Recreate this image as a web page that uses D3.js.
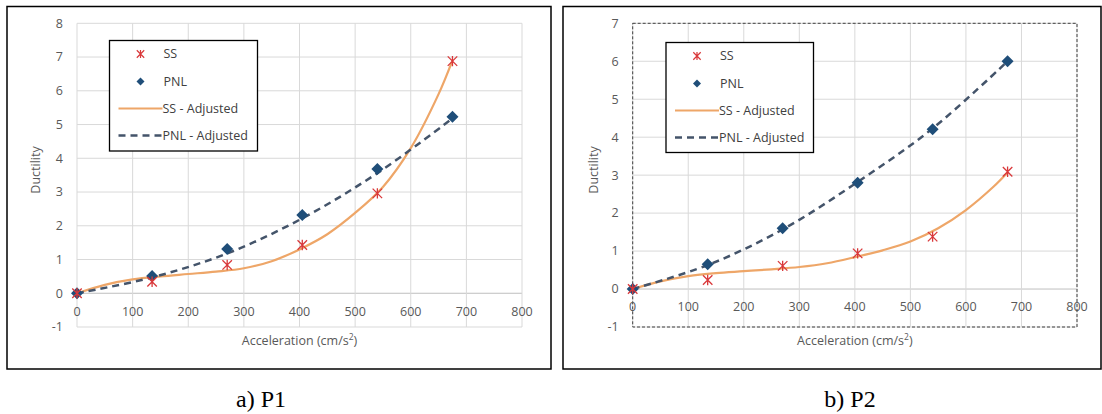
<!DOCTYPE html>
<html>
<head>
<meta charset="utf-8">
<script src="https://cdn.jsdelivr.net/npm/d3@7"></script>
<style>
  body { margin: 0; background: #fff; }
  svg { display: block; }
</style>
</head>
<body>
<div id="chart"></div>
<script>
// measured accelerations (cm/s2)
var accel = [0, 135, 270, 405, 540, 675];

// P1
var p1SS  = [0, 0.34, 0.84, 1.43, 2.96, 6.88];
var p1PNL = [0, 0.51, 1.31, 2.32, 3.68, 5.23];
var p1SSAdjX  = [0, 50, 100, 150, 200, 250, 300, 350, 400, 450, 500, 550, 600, 650, 675];
var p1SSAdjY  = [0, 0.25, 0.41, 0.5, 0.57, 0.64, 0.74, 0.95, 1.3, 1.75, 2.38, 3.15, 4.3, 5.9, 6.9];
var p1PNLAdjX = [0, 135, 270, 405, 540, 675];
var p1PNLAdjY = [0, 0.47, 1.18, 2.22, 3.56, 5.18];

// P2
var p2SS  = [0, 0.24, 0.61, 0.94, 1.38, 3.09];
var p2PNL = [0, 0.65, 1.6, 2.8, 4.21, 6.0];
var p2SSAdjX  = [0, 50, 100, 150, 200, 250, 300, 350, 400, 450, 500, 550, 600, 650, 675];
var p2SSAdjY  = [0, 0.2, 0.34, 0.42, 0.47, 0.52, 0.58, 0.68, 0.84, 1.02, 1.25, 1.6, 2.08, 2.7, 3.07];
var p2PNLAdjX = [0, 135, 270, 405, 540, 675];
var p2PNLAdjY = [0, 0.63, 1.57, 2.82, 4.23, 6.0];

var xTicks = [0, 100, 200, 300, 400, 500, 600, 700, 800];
var p1YTicks = [-1, 0, 1, 2, 3, 4, 5, 6, 7, 8];
var p2YTicks = [-1, 0, 1, 2, 3, 4, 5, 6, 7];
var legendLabels = ["SS", "PNL", "SS - Adjusted", "PNL - Adjusted"];

var ssColor = "#d9383a", pnlColor = "#1f4e79", ssLine = "#eea668", pnlLine = "#44546a";
var font = "'Open Sans', sans-serif";

var svg = d3.select("#chart").append("svg")
    .attr("width", 1102).attr("height", 414);

// Excel style star marker: x with a vertical stroke
var asterisk = {
    draw: function(ctx, size) {
        var r = Math.sqrt(size) / 2;
        ctx.moveTo(-r, -r); ctx.lineTo(r, r);
        ctx.moveTo(-r, r); ctx.lineTo(r, -r);
        ctx.moveTo(0, -r * 1.1); ctx.lineTo(0, r * 1.1);
    }
};

// square diamond (equal width and height)
var diamond = {
    draw: function(ctx, size) {
        var r = Math.sqrt(size / 2);
        ctx.moveTo(0, -r); ctx.lineTo(r, 0); ctx.lineTo(0, r); ctx.lineTo(-r, 0);
        ctx.closePath();
    }
};

function zip(xs, ys) {
    return xs.map(function(x, i) { return [x, ys[i]]; });
}

function drawPanel(cfg) {
    // frame
    svg.append("rect")
        .attr("x", cfg.frame[0]).attr("y", cfg.frame[1])
        .attr("width", cfg.frame[2]).attr("height", cfg.frame[3])
        .attr("fill", "none").attr("stroke", "#000").attr("stroke-width", 1.5);

    var x = d3.scaleLinear().domain([0, 800]).range([cfg.plot[0], cfg.plot[1]]);
    var y = d3.scaleLinear().domain(cfg.yDomain).range([cfg.plot[3], cfg.plot[2]]);
    var g = svg.append("g");

    // gridlines
    g.selectAll("line.hg").data(cfg.yTicks).enter().append("line")
        .attr("x1", x(0)).attr("x2", x(800))
        .attr("y1", function(d) { return y(d); }).attr("y2", function(d) { return y(d); })
        .attr("stroke", function(d) { return d === 0 ? "#bfbfbf" : "#d9d9d9"; })
        .attr("stroke-width", 1);
    g.selectAll("line.vg").data(xTicks).enter().append("line")
        .attr("y1", y(cfg.yDomain[0])).attr("y2", y(cfg.yDomain[1]))
        .attr("x1", function(d) { return x(d); }).attr("x2", function(d) { return x(d); })
        .attr("stroke", "#d9d9d9").attr("stroke-width", 1);

    if (cfg.dashedBorder) {
        g.append("rect")
            .attr("x", x(0)).attr("y", y(cfg.yDomain[1]))
            .attr("width", x(800) - x(0)).attr("height", y(cfg.yDomain[0]) - y(cfg.yDomain[1]))
            .attr("fill", "none").attr("stroke", "#404040")
            .attr("stroke-width", 1).attr("stroke-dasharray", "3,2");
    }

    // tick labels
    g.selectAll("text.yt").data(cfg.yTicks).enter().append("text")
        .attr("x", x(0) - 14).attr("y", function(d) { return y(d); })
        .attr("dy", "0.35em").attr("text-anchor", "end")
        .attr("font-family", font).attr("font-size", 12.5).attr("fill", "#595959")
        .text(function(d) { return d; });
    g.selectAll("text.xt").data(xTicks).enter().append("text")
        .attr("x", function(d) { return x(d); }).attr("y", y(0) + 18)
        .attr("dy", "0.35em").attr("text-anchor", "middle")
        .attr("font-family", font).attr("font-size", 12.5).attr("fill", "#595959")
        .text(function(d) { return d; });

    // axis titles
    var xt = g.append("text")
        .attr("x", (x(0) + x(800)) / 2).attr("y", cfg.xTitleY)
        .attr("text-anchor", "middle")
        .attr("font-family", font).attr("font-size", 12.5).attr("fill", "#595959");
    xt.append("tspan").text("Acceleration (cm/s");
    xt.append("tspan").attr("font-size", 8.5).attr("dy", -5).text("2");
    xt.append("tspan").attr("dy", 5).text(")");

    g.append("text")
        .attr("transform", "translate(" + cfg.yTitleX + "," + cfg.yTitleY + ") rotate(-90)")
        .attr("text-anchor", "middle")
        .attr("font-family", font).attr("font-size", 12.5).attr("fill", "#595959")
        .text("Ductility");

    // adjusted curves
    var line = d3.line()
        .x(function(d) { return x(d[0]); })
        .y(function(d) { return y(d[1]); })
        .curve(d3.curveCatmullRom);

    g.append("path").datum(zip(cfg.ssAdjX, cfg.ssAdjY))
        .attr("d", line).attr("fill", "none")
        .attr("stroke", ssLine).attr("stroke-width", 2.2);
    g.append("path").datum(zip(cfg.pnlAdjX, cfg.pnlAdjY))
        .attr("d", line).attr("fill", "none")
        .attr("stroke", pnlLine).attr("stroke-width", 2.5)
        .attr("stroke-dasharray", "7,5");

    // markers
    g.selectAll("path.pnl").data(zip(accel, cfg.pnl)).enter().append("path")
        .attr("d", d3.symbol().type(diamond).size(72))
        .attr("transform", function(d) { return "translate(" + x(d[0]) + "," + y(d[1]) + ")"; })
        .attr("fill", pnlColor);
    g.selectAll("path.ss").data(zip(accel, cfg.ss)).enter().append("path")
        .attr("d", d3.symbol().type(asterisk).size(90))
        .attr("transform", function(d) { return "translate(" + x(d[0]) + "," + y(d[1]) + ")"; })
        .attr("fill", "none").attr("stroke", ssColor).attr("stroke-width", 1.3);

    // legend
    var L = cfg.legend;
    var lg = svg.append("g").attr("transform", "translate(" + L[0] + "," + L[1] + ")");
    lg.append("rect").attr("width", L[2]).attr("height", L[3])
        .attr("fill", "#fff").attr("stroke", "#000").attr("stroke-width", 1.3);
    var rows = [13.5, 41, 68, 95];
    lg.append("path").attr("d", d3.symbol().type(asterisk).size(55))
        .attr("transform", "translate(31," + rows[0] + ")")
        .attr("fill", "none").attr("stroke", ssColor).attr("stroke-width", 1.2);
    lg.append("path").attr("d", d3.symbol().type(diamond).size(32))
        .attr("transform", "translate(31," + rows[1] + ")")
        .attr("fill", pnlColor);
    lg.append("line").attr("x1", 9).attr("x2", 53).attr("y1", rows[2]).attr("y2", rows[2])
        .attr("stroke", ssLine).attr("stroke-width", 2.2);
    lg.append("line").attr("x1", 9).attr("x2", 53).attr("y1", rows[3]).attr("y2", rows[3])
        .attr("stroke", pnlLine).attr("stroke-width", 2.5).attr("stroke-dasharray", "7,5");
    lg.selectAll("text").data(legendLabels).enter().append("text")
        .attr("x", function(d, i) { return i < 2 ? 54 : 53; })
        .attr("y", function(d, i) { return rows[i]; })
        .attr("dy", "0.35em")
        .attr("font-family", font).attr("font-size", 12.5).attr("fill", "#404040")
        .text(function(d) { return d; });

    // caption
    svg.append("text")
        .attr("x", cfg.captionX).attr("y", 407)
        .attr("text-anchor", "middle")
        .attr("font-family", "'Liberation Serif', 'Times New Roman', serif")
        .attr("font-size", 24).attr("fill", "#000")
        .text(cfg.caption);
}

drawPanel({
    frame: [7, 6.5, 544, 362.5],
    plot: [77, 522, 23.3, 327],
    yDomain: [-1, 8], yTicks: p1YTicks,
    ss: p1SS, pnl: p1PNL,
    ssAdjX: p1SSAdjX, ssAdjY: p1SSAdjY,
    pnlAdjX: p1PNLAdjX, pnlAdjY: p1PNLAdjY,
    legend: [109.5, 40.5, 148, 110.5],
    xTitleY: 345, yTitleX: 40, yTitleY: 170,
    dashedBorder: false,
    caption: "a) P1", captionX: 261
});

drawPanel({
    frame: [563, 6.5, 538, 362.5],
    plot: [632.7, 1077, 23.3, 327],
    yDomain: [-1, 7], yTicks: p2YTicks,
    ss: p2SS, pnl: p2PNL,
    ssAdjX: p2SSAdjX, ssAdjY: p2SSAdjY,
    pnlAdjX: p2PNLAdjX, pnlAdjY: p2PNLAdjY,
    legend: [666, 42.5, 147.5, 110],
    xTitleY: 345, yTitleX: 598, yTitleY: 170,
    dashedBorder: true,
    caption: "b) P2", captionX: 850
});
</script>
</body>
</html>
